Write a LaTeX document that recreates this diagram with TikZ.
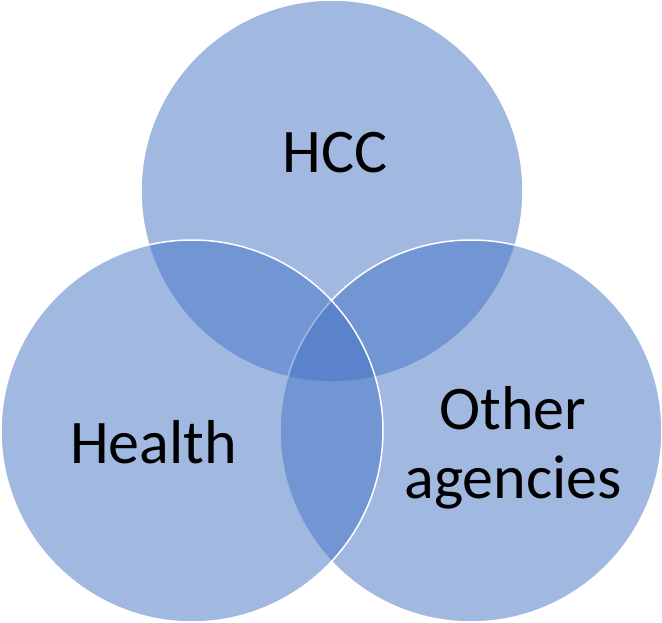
\documentclass[tikz,border=0pt]{standalone}
\usepackage{fontspec}
\setmainfont{Carlito}
\usetikzlibrary{calc}
\definecolor{vennblue}{RGB}{68,114,196}
\tikzset{set/.style={circle,draw=white,line width=1.5pt,fill=vennblue,fill opacity=0.5,minimum size=382pt,inner sep=0pt}}

\begin{document}
\begin{tikzpicture}[x=1pt,y=-1pt,
                    set label/.style={inner sep=0pt,anchor=base,text=black,font=\fontsize{62}{69}\selectfont}]

		\useasboundingbox (0,0) rectangle (662,623);

		% The three sets (top first, left last)
		\node [set] (hcc)    at (332,191) {};
		\node [set] (other)  at (471,431) {};
		\node [set] (health) at (192,431) {};

		% Label "HCC"
		\node [set label] (hcc label) at ($(hcc) + (3,-18)$) {HCC};

		% Label "Health"
		\node [set label] (health label) at ($(health) + (-38.5,32)$) {Health};

		% Label "Other agencies"
		\node [set label] (other label)    at ($(other) + (42,-2)$) {Other};
		\node [set label] (agencies label) at ($(other) + (42,67)$) {agencies};

	\end{tikzpicture}
\end{document}
